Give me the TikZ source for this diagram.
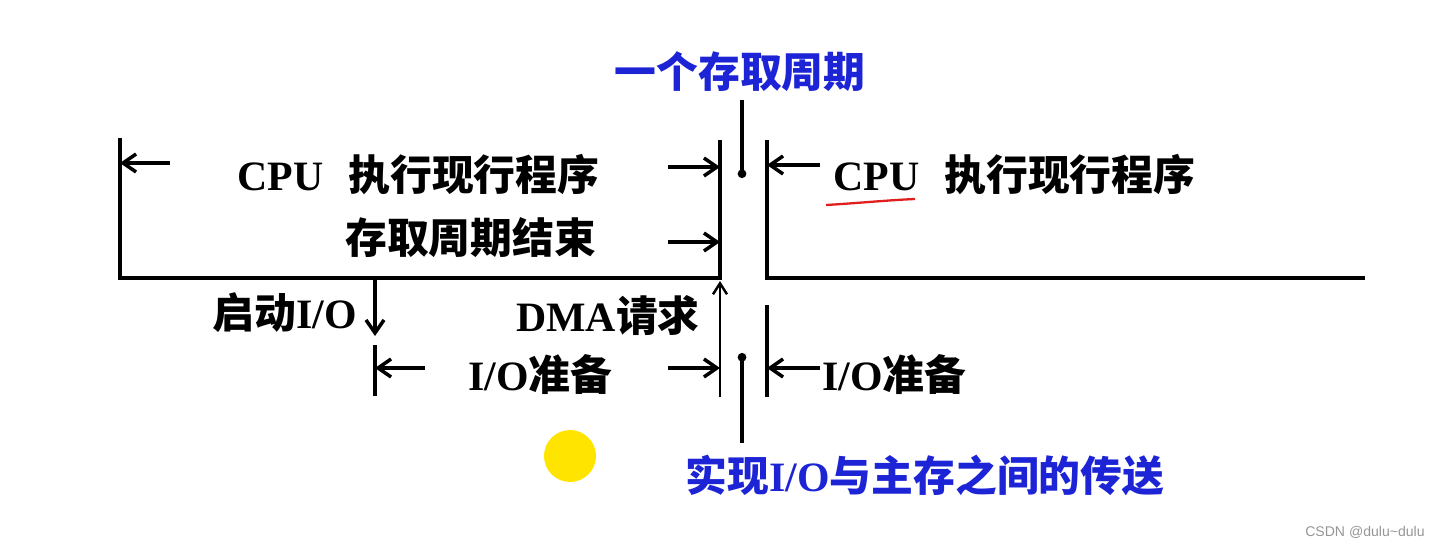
\documentclass[tikz,border=0pt]{standalone}
\usepackage{fontspec}
\setmainfont{Liberation Serif}
\newfontfamily\cjk{Noto Sans CJK SC}
\newfontfamily\wmfont{Liberation Sans}
\usetikzlibrary{arrows.meta,positioning,calc}
\definecolor{cycleblue}{RGB}{28,36,214}
\definecolor{markred}{RGB}{225,30,30}
\definecolor{dotyellow}{RGB}{255,228,0}
\definecolor{wmgray}{RGB}{150,150,150}
\newcommand\zh[1]{{\cjk\bfseries #1}}
\newcommand\bigtext{\fontsize{23.8pt}{28pt}\selectfont\bfseries}
\tikzset{
  frame/.style  ={line width=2.3pt},
  tick/.style   ={line width=1.8pt},
  harr/.style   ={line width=2.4pt, -{Straight Barb[length=2.6mm,width=3.6mm,line width=2pt]}},
  thinarr/.style={line width=1.4pt, -{Straight Barb[length=2.2mm,width=2.8mm]}},
  lbl/.style    ={font=\bigtext, inner sep=0pt},
  note/.style   ={lbl, text=cycleblue}
}
\begin{document}
\begin{tikzpicture}[x=0.02cm, y=-0.02cm]
\useasboundingbox (0,0) rectangle (1442,551);
% frame of the two CPU phases
\coordinate (lt) at (120,138);
\coordinate (mt) at (720,140);
\coordinate (mb) at (720,278);
\coordinate (rt) at (767,140);
\coordinate (re) at (1365,278);
\draw[frame] (lt) |- (mb) -- (mt);
\draw[frame] (rt) |- (re);
% one access cycle
\node[note] (cycle) at (740,72) {\zh{一个存取周期}};
\coordinate (ctop) at (742,100); \coordinate (cdot) at (742,178);
\draw[tick, -{Circle[length=1.7mm]}] (ctop) -- (cdot);
% CPU labels
\node[lbl, anchor=west] (cpuL) at (237,175) {CPU\hspace{0.6em}\zh{执行现行程序}};
\node[lbl, anchor=west] (endL) at (345,238) {\zh{存取周期结束}};
\node[lbl, anchor=west] (cpuR) at (833,175) {CPU\hspace{0.6em}\zh{执行现行程序}};
\coordinate (a1) at (170,163); \draw[harr] (a1) -- (a1 -| lt);
\coordinate (a2) at (668,167); \draw[harr] (a2) -- (a2 -| mt);
\coordinate (a3) at (668,242); \draw[harr] (a3) -- (a3 -| mt);
\coordinate (a4) at (820,165); \draw[harr] (a4) -- (a4 -| rt);
\draw[markred, line width=1.3pt] (826,205) .. controls (860,203) and (890,200) .. (915,199);
% I/O side
\node[lbl, anchor=east] (start) at (357,313) {\zh{启动}I/O};
\coordinate (sdown) at (375,336); \draw[harr] (sdown |- mb) -- (sdown);
\coordinate (sl1) at (375,345); \coordinate (sl2) at (375,396);
\draw[tick] (sl1) -- (sl2);
\node[lbl, anchor=west] (ioL) at (468,375) {I/O\zh{准备}};
\coordinate (b1) at (425,368); \draw[harr] (b1) -- (b1 -| sl1);
\coordinate (b2) at (668,368); \draw[harr] (b2) -- (b2 -| mt);
\node[lbl, anchor=east] (dma) at (700,315) {DMA\zh{请求}};
\coordinate (dreq) at (720,397); \coordinate (dtip) at (720,281);
\draw[thinarr] (dreq) -- (dtip);
\coordinate (rt2) at (767,305); \coordinate (rb2) at (767,397);
\draw[tick] (rt2) -- (rb2);
\coordinate (b3) at (820,368); \draw[harr] (b3) -- (b3 -| rt2);
\node[lbl, anchor=west] (ioR) at (822,375) {I/O\zh{准备}};
\coordinate (bdot) at (742,353); \coordinate (bbot) at (742,443);
\draw[tick, {Circle[length=1.7mm]}-] (bdot) -- (bbot);
\node[note] (xfer) at (925,475) {\zh{实现}I/O\zh{与主存之间的传送}};
% cursor spot and watermark
\fill[dotyellow] (570,456) circle [radius=0.52cm];
\node[font=\wmfont\fontsize{8pt}{9pt}\selectfont, text=wmgray, anchor=east, inner sep=0pt] (wm) at (1425,532) {CSDN @dulu\textasciitilde dulu};
\end{tikzpicture}
\end{document}
